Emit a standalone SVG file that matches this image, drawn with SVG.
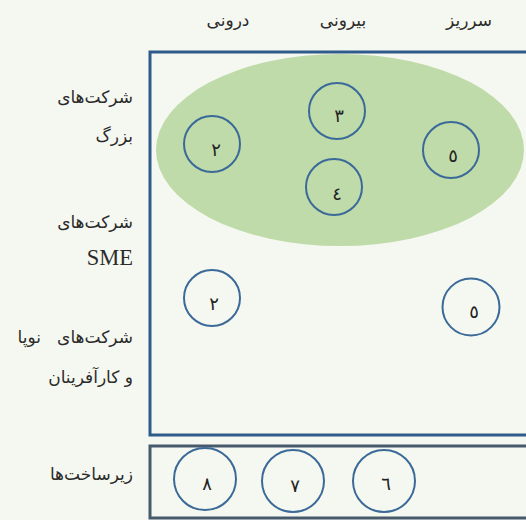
<svg xmlns="http://www.w3.org/2000/svg" width="526" height="520" viewBox="0 0 526 520">
<style>
.lbl{font-family:"DejaVu Sans","Noto Sans",sans-serif;font-size:17px;fill:#2b2b2b;text-anchor:start}
.hdr{font-family:"DejaVu Sans","Noto Sans",sans-serif;font-size:17px;fill:#2b2b2b;text-anchor:middle}
.lat{font-family:"Liberation Serif",serif;font-size:22.5px;fill:#2b2b2b;text-anchor:end}
.c circle{fill:none;stroke:#3b6a99;stroke-width:2}
.c text{font-family:"DejaVu Sans","Noto Sans",sans-serif;font-size:18px;fill:#222;text-anchor:middle}
</style>
<rect width="526" height="520" fill="#f5f8f0"/>
<g id="headers">
<text class="hdr" x="228" y="26" direction="rtl">درونی</text>
<text class="hdr" x="343" y="26" direction="rtl">بیرونی</text>
<text class="hdr" x="469" y="26" direction="rtl">سرریز</text>
</g>
<g id="rows">
<text class="lbl" x="133" y="103" direction="rtl">شرکت‌های</text>
<text class="lbl" x="133" y="142" direction="rtl">بزرگ</text>
<text class="lbl" x="133" y="228" direction="rtl">شرکت‌های</text>
<text class="lat" x="133" y="265">SME</text>
<text class="lbl" x="133" y="343" direction="rtl" xml:space="preserve">شرکت‌های   نوپا</text>
<text class="lbl" x="133" y="383" direction="rtl">و کارآفرینان</text>
<text class="lbl" x="133" y="480" direction="rtl">زیرساخت‌ها</text>
</g>
<g id="frames">
<rect x="150" y="52" width="390" height="383" fill="none" stroke="#2f5b8b" stroke-width="3"/>
<rect x="150" y="446" width="390" height="72" fill="none" stroke="#475a6c" stroke-width="3"/>
</g>
<g id="large-firms">
<ellipse cx="340" cy="150" rx="184" ry="96" fill="#c0dbaa"/>
</g>
<g id="n-l2" class="c"><circle cx="212" cy="144" r="28"/><text x="216" y="156">٢</text></g>
<g id="n-l3" class="c"><circle cx="337" cy="111" r="28"/><text x="339" y="122">٣</text></g>
<g id="n-l4" class="c"><circle cx="334" cy="187" r="28"/><text x="337" y="200">٤</text></g>
<g id="n-l5" class="c"><circle cx="451" cy="150" r="28"/><text x="453" y="162">٥</text></g>
<g id="n-s2" class="c"><circle cx="212" cy="298" r="28"/><text x="214" y="310">٢</text></g>
<g id="n-s5" class="c"><circle cx="471" cy="307" r="28.5"/><text x="474" y="318">٥</text></g>
<g id="n-i8" class="c"><circle cx="205" cy="479" r="31"/><text x="207" y="490">٨</text></g>
<g id="n-i7" class="c"><circle cx="293" cy="481" r="31"/><text x="295" y="492">٧</text></g>
<g id="n-i6" class="c"><circle cx="384" cy="481" r="31"/><text x="386" y="490">٦</text></g>
<g id="connectors"></g>
</svg>
